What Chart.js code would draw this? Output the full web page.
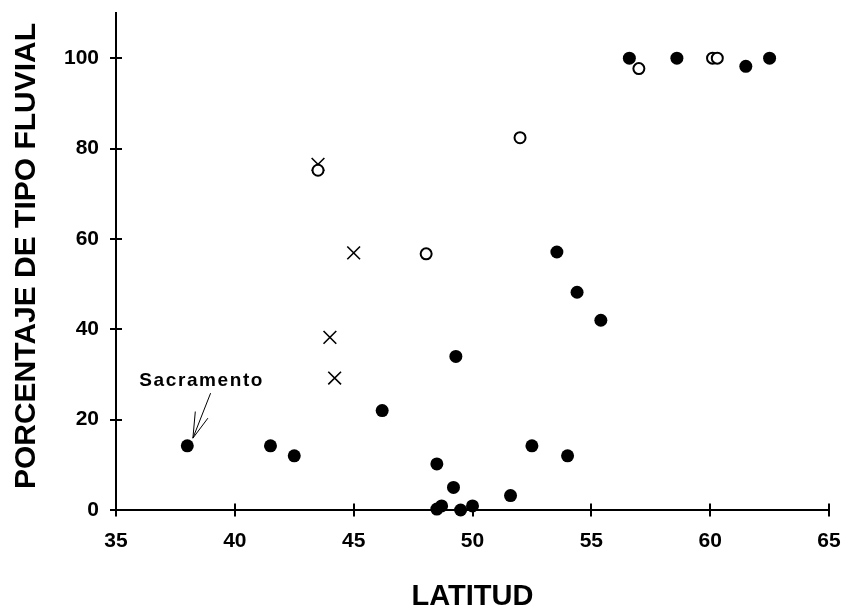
<!DOCTYPE html>
<html>
<head>
<meta charset="utf-8">
<script src="https://cdn.jsdelivr.net/npm/chart.js@4.4.1/dist/chart.umd.min.js"></script>
<style>
  html, body { margin: 0; padding: 0; background: #fff; }
  #wrap { width: 845px; height: 607px; }
</style>
</head>
<body>
<div id="wrap"><canvas id="c" width="845" height="607"></canvas></div>
<script>
// Axis ticks
const xTicks = [35, 40, 45, 50, 55, 60, 65];
const yTicks = [0, 20, 40, 60, 80, 100];

// Filled circles: latitude / percentage
const filledLat = [38.0, 41.5, 42.5, 46.2, 48.5, 49.2, 48.5, 48.7, 49.5, 50.0, 51.6, 52.5, 54.0, 53.55, 54.4, 55.4, 49.3, 56.6, 58.6, 61.5, 62.5];
const filledPct = [14.2, 14.2, 12.0, 22.0, 10.2, 5.0, 0.2, 0.9, 0.0, 0.9, 3.2, 14.2, 12.0, 57.1, 48.2, 42.0, 34.0, 100, 100, 98.2, 100];

// Open circles
const openLat = [57.0, 60.1, 60.3, 52.0, 48.05, 43.5];
const openPct = [97.7, 100, 100, 82.4, 56.7, 75.2];

// Crosses
const crossLat = [45.0, 44.0, 44.2, 43.5];
const crossPct = [56.9, 38.2, 29.2, 76.5];

// Texts
const xTitle = 'LATITUD';
const yTitle = 'PORCENTAJE DE TIPO FLUVIAL';
const noteText = 'Sacramento';
const noteIndex = 0; // index in the filled series

const pts = (xs, ys) => xs.map((x, i) => ({ x: x, y: ys[i] }));

const tickFamily = "'Liberation Sans Narrow', 'Arial Narrow', 'Liberation Sans', Arial, sans-serif";

// Tick marks crossing the axes, axis titles and the Sacramento note
const decorations = {
  id: 'decorations',
  afterDraw(chart) {
    const ctx = chart.ctx;
    const xs = chart.scales.x, ys = chart.scales.y;
    const area = chart.chartArea;
    ctx.save();
    ctx.strokeStyle = '#000';
    ctx.lineWidth = 2;
    ctx.beginPath();
    xs.ticks.forEach(t => {
      const px = Math.round(xs.getPixelForValue(t.value));
      ctx.moveTo(px, area.bottom - 6.5);
      ctx.lineTo(px, area.bottom + 6.5);
    });
    ys.ticks.forEach(t => {
      const py = Math.round(ys.getPixelForValue(t.value));
      ctx.moveTo(area.left - 6, py);
      ctx.lineTo(area.left + 6, py);
    });
    ctx.stroke();

    // axis titles
    ctx.fillStyle = '#000';
    ctx.font = "bold 29px 'Liberation Sans', Arial, sans-serif";
    ctx.textAlign = 'center';
    ctx.textBaseline = 'alphabetic';
    ctx.fillText(xTitle, (area.left + area.right) / 2, 605);

    ctx.save();
    ctx.translate(35, 256);
    ctx.rotate(-Math.PI / 2);
    ctx.font = "bold 30px 'Liberation Sans', Arial, sans-serif";
    ctx.fillText(yTitle, 0, 0);
    ctx.restore();

    // Sacramento note with open arrow
    const p = chart.getDatasetMeta(0).data[noteIndex];
    const px = p.x, py = p.y;
    ctx.font = "bold 19px 'Liberation Sans', Arial, sans-serif";
    ctx.textAlign = 'left';
    try { ctx.letterSpacing = '1.6px'; } catch (e) {}
    ctx.fillText(noteText, px - 48, py - 59.5);
    try { ctx.letterSpacing = '0px'; } catch (e) {}

    ctx.lineWidth = 1;
    ctx.beginPath();
    ctx.moveTo(px + 23.3, py - 52.7);
    ctx.lineTo(px + 5.6, py - 7.7);
    ctx.moveTo(px + 8.0, py - 34.3);
    ctx.lineTo(px + 5.6, py - 7.7);
    ctx.lineTo(px + 20.6, py - 27.7);
    ctx.stroke();
    ctx.restore();
  }
};

new Chart(document.getElementById('c'), {
  type: 'scatter',
  data: {
    datasets: [
      {
        label: 'filled',
        data: pts(filledLat, filledPct),
        pointStyle: 'circle',
        pointRadius: 6.5,
        pointHoverRadius: 6.5,
        backgroundColor: '#000',
        borderColor: '#000',
        borderWidth: 0,
        clip: false,
        order: 2
      },
      {
        label: 'open',
        data: pts(openLat, openPct),
        pointStyle: 'circle',
        pointRadius: 5.5,
        pointHoverRadius: 5.5,
        backgroundColor: '#fff',
        borderColor: '#000',
        borderWidth: 2,
        clip: false,
        order: 0
      },
      {
        label: 'cross',
        data: pts(crossLat, crossPct),
        pointStyle: 'crossRot',
        pointRadius: 9,
        pointHoverRadius: 9,
        backgroundColor: '#000',
        borderColor: '#000',
        borderWidth: 1.6,
        clip: false,
        order: 1
      }
    ]
  },
  options: {
    responsive: false,
    animation: false,
    events: [],
    layout: { padding: { top: 13, right: 16, left: 0, bottom: 0 } },
    plugins: {
      legend: { display: false },
      tooltip: { enabled: false },
      title: { display: false }
    },
    scales: {
      x: {
        type: 'linear',
        position: 'bottom',
        min: 35,
        max: 65,
        afterBuildTicks: s => { s.ticks = xTicks.map(v => ({ value: v })); },
        afterFit: s => { s.height = 97; s.paddingLeft = 0; s.paddingRight = 0; },
        grid: { display: false, drawTicks: false },
        border: { display: true, color: '#000', width: 2 },
        ticks: {
          color: '#000',
          padding: 19,
          maxRotation: 0,
          autoSkip: false,
          font: { family: tickFamily, size: 21, weight: 'bold' }
        }
      },
      y: {
        type: 'linear',
        position: 'left',
        min: 0,
        max: 110,
        afterBuildTicks: s => { s.ticks = yTicks.map(v => ({ value: v })); },
        afterFit: s => { s.width = 116; s.paddingTop = 0; s.paddingBottom = 0; },
        grid: { display: false, drawTicks: false },
        border: { display: true, color: '#000', width: 2 },
        ticks: {
          color: '#000',
          padding: 17,
          autoSkip: false,
          font: { family: tickFamily, size: 21, weight: 'bold' }
        }
      }
    }
  },
  plugins: [decorations]
});
</script>
</body>
</html>
